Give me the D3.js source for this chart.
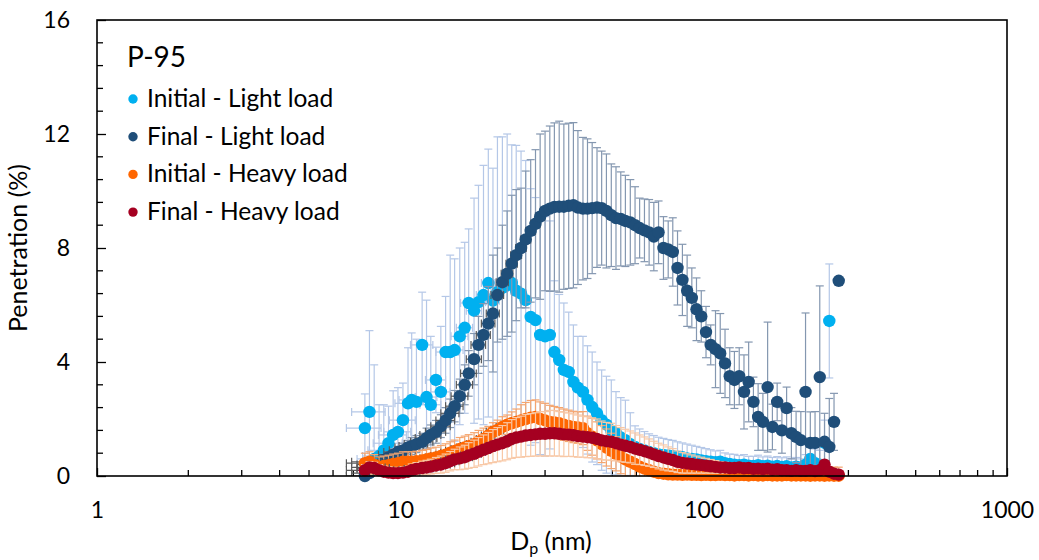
<!DOCTYPE html>
<html lang="en"><head>
<meta charset="utf-8"/>
<title>P-95 penetration</title>
<script src="https://d3js.org/d3.v7.min.js"></script>
<style>
  body { margin: 0; background: #fff; width: 1039px; height: 560px; overflow: hidden; }
  svg text { font-family: 'Lato', sans-serif; fill: #000; }
</style>
</head><body>
<div id="chart"></div>
<script>
// particle diameter channels (nm)
const dp = [7.64,7.91,8.2,8.51,8.82,9.14,9.47,9.82,10.2,10.6,
  10.9,11.3,11.8,12.2,12.6,13.1,13.6,14.1,14.6,15.1,
  15.7,16.3,16.8,17.5,18.1,18.8,19.5,20.2,20.9,21.7,
  22.5,23.3,24.1,25.0,25.9,26.9,27.9,28.9,30.0,31.1,
  32.2,33.4,34.6,35.9,37.2,38.5,40.0,41.4,42.9,44.5,
  46.1,47.8,49.6,51.4,53.3,55.2,57.3,59.4,61.5,63.8,
  66.1,68.5,71.0,73.7,76.4,79.1,82.0,85.1,88.2,91.4,
  94.7,98.2,101.8,105.5,109.4,113.4,117.6,121.9,126.3,131.0,
  135.8,140.7,145.9,151.2,156.8,162.5,168.5,174.7,181.1,187.7,
  194.6,201.7,209.1,216.7,224.7,232.9,241.4,250.3,259.5,269.0,
  278.8];

// Initial - Light load
const initLight = [1.68,2.25,0.6,0.7,0.9,1.15,1.44,1.55,1.96,2.55,
  2.67,2.6,4.6,2.77,2.5,3.37,2.95,4.35,4.35,4.42,
  4.9,5.2,6.07,5.8,6.1,6.35,6.77,6.15,6.45,6.6,
  6.7,6.77,6.5,6.4,6.17,5.58,5.47,4.95,4.9,4.95,
  4.35,4.07,3.72,3.65,3.3,3.1,2.95,2.67,2.42,2.2,
  1.96,1.8,1.6,1.5,1.35,1.26,1.12,1.02,0.95,0.9,
  0.84,0.8,0.76,0.74,0.72,0.7,0.68,0.66,0.62,0.6,
  0.58,0.55,0.52,0.5,0.48,0.5,0.45,0.42,0.4,0.38,
  0.4,0.36,0.35,0.38,0.34,0.36,0.33,0.35,0.32,0.34,
  0.3,0.33,0.3,0.4,0.6,0.45,0.4,1.16,5.44,null,
  null];
const initLightErr = [1.2,2.85,3.3,1.8,1.6,1.3,1.55,1.55,1.3,1.95,
  2.35,2.2,1.85,3.4,2.4,1.15,2.3,1.95,3.4,3.2,
  3.1,3.0,2.6,3.95,4.1,4.55,4.7,4.65,5.45,5.3,
  5.3,4.85,5.1,5.0,4.9,4.5,4.3,4.2,4.2,4.0,
  2.5,2.3,2.35,2.1,2.0,1.8,1.95,1.9,1.93,1.8,
  1.76,1.7,1.77,1.46,1.4,1.4,1.1,0.74,0.7,0.66,
  0.64,0.62,0.6,0.58,0.56,0.55,0.52,0.5,0.5,0.48,
  0.46,0.45,0.44,0.42,0.4,0.4,0.36,0.35,0.36,0.34,
  0.35,0.33,0.34,0.35,0.33,0.34,0.32,0.33,0.32,0.33,
  0.31,0.32,0.3,0.35,0.6,0.5,0.5,0.8,2.0,null,
  null];

// Final - Light load
const finalLight = [0.0,0.1,0.25,0.4,0.56,0.65,0.75,0.84,0.9,1.0,
  1.05,1.12,1.2,1.33,1.44,1.55,1.75,1.95,2.2,2.45,
  2.8,3.2,3.6,4.1,4.6,4.95,5.35,5.7,6.35,6.8,
  7.1,7.45,7.75,8.0,8.3,8.6,8.85,9.1,9.3,9.38,
  9.44,9.45,9.45,9.48,9.5,9.42,9.38,9.38,9.4,9.42,
  9.4,9.3,9.15,9.05,9.02,8.95,8.9,8.8,8.7,8.62,
  8.55,8.4,8.55,8.0,7.95,7.86,7.3,6.88,6.5,6.25,
  5.85,5.6,5.05,4.6,4.45,4.3,3.95,3.5,3.37,3.5,
  2.95,3.3,2.6,2.07,1.9,3.12,1.72,2.6,1.6,2.38,
  1.5,1.37,1.26,2.95,1.16,1.16,3.47,1.2,1.02,1.9,
  6.85];
const finalLightErr = [0.1,0.1,0.15,0.15,0.2,0.2,0.2,0.2,0.25,0.25,
  0.3,0.3,0.3,0.35,0.35,0.4,0.4,0.45,0.5,0.55,
  0.6,0.7,0.8,0.9,1.0,1.1,1.3,2.05,1.65,2.0,
  2.2,2.4,2.3,2.1,2.4,2.5,2.6,2.9,2.8,2.9,
  2.95,3.0,2.9,2.9,2.9,2.7,2.5,2.45,2.3,2.1,
  2.0,2.0,1.8,1.8,1.65,1.6,1.5,1.35,1.05,1.1,
  1.15,1.2,1.1,1.1,1.0,1.2,1.3,1.25,1.25,1.05,
  1.1,0.9,0.9,0.7,1.35,1.4,1.2,1.0,1.0,1.0,
  1.3,1.4,0.87,1.17,1.0,2.28,0.8,0.66,0.8,0.74,
  0.9,0.9,1.0,2.77,1.09,1.1,3.2,1.0,1.7,1.0,
  0];

// Initial - Heavy load
const initHeavy = [0.45,0.5,0.4,0.32,0.35,0.38,0.42,0.45,0.5,0.5,
  0.5,0.52,0.55,0.58,0.62,0.65,0.7,0.75,0.82,0.88,
  0.95,1.0,1.05,1.12,1.2,1.3,1.42,1.55,1.62,1.72,
  1.8,1.85,1.9,1.95,2.0,2.05,2.07,2.0,1.95,1.9,
  1.88,1.85,1.8,1.76,1.72,1.7,1.68,1.5,1.38,1.25,
  1.12,1.0,0.88,0.78,0.68,0.58,0.5,0.42,0.33,0.26,
  0.2,0.15,0.1,0.08,0.06,0.05,0.05,0.04,0.05,0.04,
  0.04,0.03,0.04,0.03,0.03,0.04,0.03,0.03,0.02,0.03,
  0.03,0.02,0.03,0.02,0.02,0.03,0.02,0.02,0.02,0.03,
  0.02,0.02,0.02,0.02,0.01,0.02,0.02,0.01,0.02,0.01,
  0.01];
const initHeavyErr = [0.35,0.35,0.35,0.35,0.35,0.35,0.35,0.35,0.35,0.35,
  0.35,0.35,0.35,0.35,0.36,0.36,0.37,0.38,0.38,0.38,
  0.4,0.4,0.4,0.4,0.4,0.38,0.32,0.32,0.34,0.36,
  0.34,0.4,0.45,0.55,0.58,0.6,0.6,0.6,0.6,0.58,
  0.56,0.55,0.55,0.55,0.55,0.55,0.58,0.6,0.65,0.65,
  0.65,0.65,0.62,0.6,0.6,0.58,0.55,0.55,0.5,0.5,
  0.48,0.45,0.45,0.42,0.4,0.4,0.38,0.36,0.35,0.35,
  0.34,0.33,0.32,0.32,0.31,0.3,0.3,0.3,0.3,0.3,
  0.3,0.3,0.3,0.3,0.3,0.3,0.3,0.3,0.3,0.3,
  0.3,0.3,0.3,0.3,0.3,0.3,0.3,0.3,0.3,0.3,
  0.3];

// Final - Heavy load
const finalHeavy = [0.2,0.3,0.28,0.2,0.15,0.12,0.1,0.1,0.12,0.15,
  0.2,0.25,0.28,0.3,0.33,0.37,0.4,0.45,0.52,0.58,
  0.62,0.66,0.72,0.78,0.85,0.92,0.98,1.05,1.1,1.15,
  1.22,1.3,1.35,1.38,1.42,1.44,1.46,1.48,1.48,1.5,
  1.5,1.48,1.46,1.45,1.43,1.4,1.38,1.36,1.34,1.3,
  1.25,1.22,1.2,1.15,1.1,1.06,1.02,0.96,0.92,0.87,
  0.82,0.76,0.7,0.65,0.6,0.56,0.5,0.46,0.44,0.42,
  0.4,0.38,0.36,0.34,0.32,0.3,0.3,0.28,0.28,0.3,
  0.27,0.28,0.25,0.26,0.24,0.26,0.22,0.24,0.2,0.2,
  0.18,0.2,0.18,0.18,0.2,0.17,0.2,0.4,0.15,0.08,
  0.05];
const finalHeavyErr = [0.2,0.2,0.2,0.2,0.2,0.2,0.2,0.2,0.2,0.2,
  0.22,0.22,0.24,0.25,0.26,0.28,0.3,0.32,0.34,0.36,
  0.4,0.42,0.45,0.48,0.5,0.52,0.55,0.58,0.6,0.62,
  0.65,0.68,0.7,0.72,0.74,0.75,0.76,0.78,0.78,0.8,
  0.8,0.78,0.78,0.76,0.75,0.74,0.72,0.72,0.7,0.7,
  0.68,0.66,0.65,0.62,0.6,0.58,0.56,0.55,0.52,0.5,
  0.48,0.46,0.45,0.44,0.42,0.4,0.38,0.36,0.34,0.32,
  0.3,0.28,0.26,0.24,0.22,0.2,0.18,0.18,0.16,0.16,
  0.15,0.15,0.15,0.15,0.15,0.15,0.15,0.15,0.15,0.15,
  0.15,0.15,0.15,0.15,0.15,0.15,0.15,0.15,0.15,0.15,
  0.15];

const xErrNm = 1;              // fixed horizontal error bar (nm)
const xTicks = [1, 10, 100, 1000];
const yTicks = [0, 4, 8, 12, 16];
const yMinorStep = 0.8;

const series = [
  {name: "Initial - Light load", vals: initLight, errs: initLightErr, color: "#00b0f0", errColor: "#b4c7e7", xErrColor: "#b4c7e7"},
  {name: "Final - Light load",   vals: finalLight, errs: finalLightErr, color: "#1f4e79", errColor: "#8497b0", xErrColor: "#595959"},
  {name: "Initial - Heavy load", vals: initHeavy, errs: initHeavyErr, color: "#ff6600", errColor: "#f5a56e", xErrColor: "#595959"},
  {name: "Final - Heavy load",   vals: finalHeavy, errs: finalHeavyErr, color: "#a50021", errColor: "#f8c8a6", xErrColor: "#595959"}
];

const W = 1039, H = 560;
const plot = {left: 97, top: 20, right: 1007, bottom: 476};

const x = d3.scaleLog().domain([1, 1000]).range([plot.left, plot.right]);
const y = d3.scaleLinear().domain([0, 16]).range([plot.bottom, plot.top]);

const svg = d3.select("#chart").append("svg")
  .attr("width", W).attr("height", H);

svg.append("defs").append("clipPath").attr("id", "plotClip")
  .append("rect")
  .attr("x", plot.left).attr("y", plot.top)
  .attr("width", plot.right - plot.left).attr("height", plot.bottom - plot.top);

// axes
const xAxis = svg.append("g")
  .attr("transform", `translate(0,${plot.bottom})`)
  .call(d3.axisBottom(x).tickValues(xTicks).tickFormat(d3.format("d")).tickSizeInner(-8).tickSizeOuter(0).tickPadding(26));
xAxis.select(".domain").remove();
xAxis.selectAll("text").style("font-size", "23px");

svg.append("g").selectAll("line")
  .data(x.ticks().filter(t => !xTicks.includes(t)))
  .join("line")
  .attr("x1", d => x(d)).attr("x2", d => x(d))
  .attr("y1", plot.bottom).attr("y2", plot.bottom - 6)
  .attr("stroke", "#000").attr("stroke-width", 1.3);

const yAxis = svg.append("g")
  .attr("transform", `translate(${plot.left},0)`)
  .call(d3.axisLeft(y).tickValues(yTicks).tickSizeInner(-9).tickSizeOuter(0).tickPadding(27));
yAxis.select(".domain").remove();
yAxis.selectAll("text").style("font-size", "23px");
yAxis.selectAll(".tick line").attr("stroke-width", 1.3);
xAxis.selectAll(".tick line").attr("stroke-width", 1.3);

svg.append("g").selectAll("line")
  .data(d3.range(yMinorStep, 16, yMinorStep).filter(v => Math.abs(v / 4 - Math.round(v / 4)) > 1e-6))
  .join("line")
  .attr("x1", plot.left).attr("x2", plot.left + 6)
  .attr("y1", d => y(d)).attr("y2", d => y(d))
  .attr("stroke", "#000").attr("stroke-width", 1.3);

// series
series.forEach(s => {
  const pts = dp.map((d, i) => ({d, v: s.vals[i], e: s.errs[i]})).filter(p => p.v != null);
  const g = svg.append("g");
  const eg = g.append("g").attr("clip-path", "url(#plotClip)");

  // vertical error bars
  const vb = eg.append("g").attr("stroke", s.errColor).attr("stroke-width", 1.2);
  vb.selectAll(".v").data(pts.filter(p => p.e > 0)).join("line")
    .attr("x1", p => x(p.d)).attr("x2", p => x(p.d))
    .attr("y1", p => y(p.v - p.e)).attr("y2", p => y(p.v + p.e));
  vb.selectAll(".ct").data(pts.filter(p => p.e > 0)).join("line")
    .attr("x1", p => x(p.d) - 4).attr("x2", p => x(p.d) + 4)
    .attr("y1", p => y(p.v + p.e)).attr("y2", p => y(p.v + p.e));
  vb.selectAll(".cb").data(pts.filter(p => p.e > 0)).join("line")
    .attr("x1", p => x(p.d) - 4).attr("x2", p => x(p.d) + 4)
    .attr("y1", p => y(p.v - p.e)).attr("y2", p => y(p.v - p.e));

  // horizontal error bars (fixed nm)
  const hb = eg.append("g").attr("stroke", s.xErrColor).attr("stroke-width", 1.2);
  hb.selectAll(".h").data(pts).join("line")
    .attr("x1", p => x(p.d - xErrNm)).attr("x2", p => x(p.d + xErrNm))
    .attr("y1", p => y(p.v)).attr("y2", p => y(p.v));
  hb.selectAll(".cl").data(pts).join("line")
    .attr("x1", p => x(p.d - xErrNm)).attr("x2", p => x(p.d - xErrNm))
    .attr("y1", p => y(p.v) - 4).attr("y2", p => y(p.v) + 4);
  hb.selectAll(".cr").data(pts).join("line")
    .attr("x1", p => x(p.d + xErrNm)).attr("x2", p => x(p.d + xErrNm))
    .attr("y1", p => y(p.v) - 4).attr("y2", p => y(p.v) + 4);

  g.append("g").selectAll("circle").data(pts).join("circle")
    .attr("cx", p => x(p.d)).attr("cy", p => y(p.v))
    .attr("r", 6.2).attr("fill", s.color);
});

// frame
svg.append("rect")
  .attr("x", plot.left).attr("y", plot.top)
  .attr("width", plot.right - plot.left).attr("height", plot.bottom - plot.top)
  .attr("fill", "none").attr("stroke", "#000").attr("stroke-width", 1.6);

// legend
const lg = svg.append("g");
lg.append("text").attr("x", 127).attr("y", 67).style("font-size", "28px").text("P-95");
series.forEach((s, i) => {
  const cy = 99 + i * 37.7;
  lg.append("circle").attr("cx", 133).attr("cy", cy).attr("r", 4.7).attr("fill", s.color);
  lg.append("text").attr("x", 147).attr("y", cy + 8).style("font-size", "24.5px").text(s.name);
});

// axis titles
svg.append("text")
  .attr("transform", `translate(27,248) rotate(-90)`)
  .attr("text-anchor", "middle").style("font-size", "25px")
  .text("Penetration (%)");

const xt = svg.append("text").attr("x", 551).attr("y", 550)
  .attr("text-anchor", "middle").style("font-size", "25px");
xt.append("tspan").text("D");
xt.append("tspan").attr("dy", 4).style("font-size", "16px").text("p");
xt.append("tspan").attr("dy", -4).text(" (nm)");
</script>
</body></html>
